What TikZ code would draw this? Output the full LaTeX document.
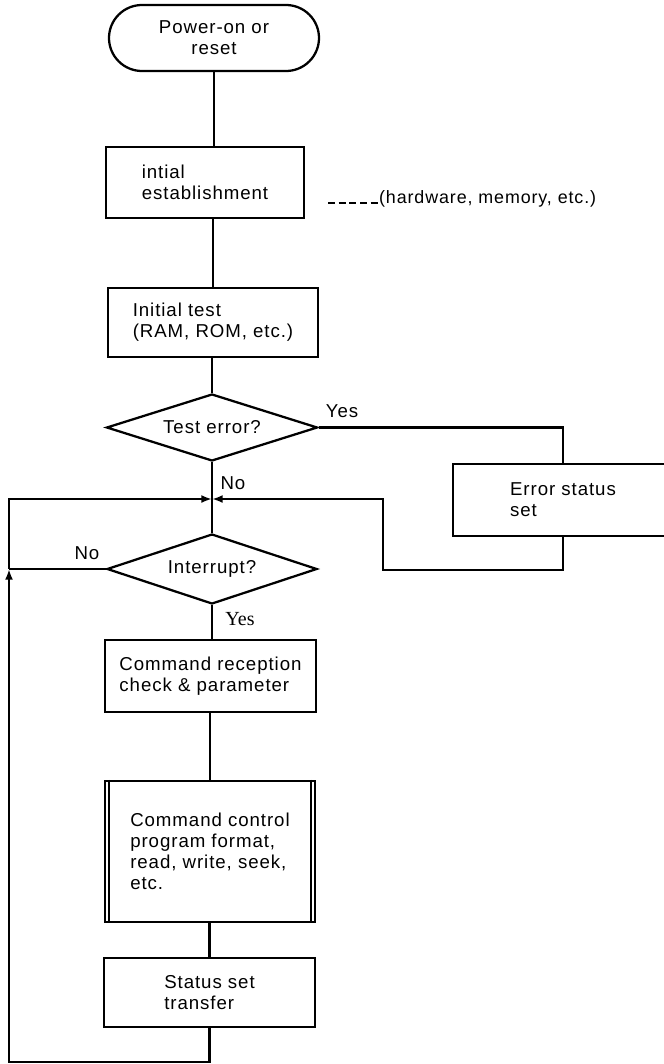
\documentclass[tikz,border=0pt]{standalone}
\usepackage{fontspec}
\setmainfont{Liberation Sans}[LetterSpace=5]
\newfontfamily\yesfont{Liberation Serif}
\usetikzlibrary{shapes.geometric,shapes.misc,arrows.meta,calc}
% lengths given in drawing units (1 unit = 0.75pt)
\newcommand\pxu[1]{#1*0.75pt}

\begin{document}
\begin{tikzpicture}[x=0.75pt,y=-0.75pt,line width=1.7pt,
  txt/.style={font=\fontsize{14pt}{15.8pt}\selectfont},
  box/.style={draw,rectangle,txt,align=left,inner sep=0pt},
  decision/.style={draw,diamond,txt,inner sep=0pt,shape aspect=3},
  terminal/.style={draw,rounded rectangle,txt,align=center,inner sep=0pt},
  lbl/.style={txt,inner sep=0pt},
  tip/.style={-{Latex[length=8pt,width=6pt]}},
  leader/.style={line width=1.3pt,dash pattern=on 5.2pt off 2.8pt}
]
\useasboundingbox (0,0) rectangle (664,1064);

% ---- blocks ----
\node[terminal,minimum width=\pxu{210},minimum height=\pxu{66}] (start) at (214,38) {Power-on or\\reset};
\node[box,minimum width=\pxu{198},minimum height=\pxu{71}] (estab) at (205,182.5) {intial\\establishment};
\node[lbl,anchor=base west,font=\fontsize{13.4pt}{15.8pt}\selectfont] (note) at (378,203) {(hardware, memory, etc.)};
\coordinate (lead) at (328,203);
\node[box,minimum width=\pxu{210},minimum height=\pxu{69}] (ramtest) at (213,322.5) {Initial test\\(RAM, ROM, etc.)};
\node[decision,minimum width=\pxu{211},minimum height=\pxu{67}] (testerr) at (212,427.5) {Test error?};
\node[box,minimum width=\pxu{220},minimum height=\pxu{72}] (errset) at (563,500) {Error status\\set};
\coordinate (merge) at (212,499);
\coordinate (loopR) at (383,570);
\node[decision,minimum width=\pxu{210},minimum height=\pxu{70}] (intr) at (212,569) {Interrupt?};
\node[box,minimum width=\pxu{211},minimum height=\pxu{72}] (recv) at (210.5,676) {Command reception\\check \& parameter};
\node[box,minimum width=\pxu{210},minimum height=\pxu{141}] (ctrl) at (210,851.5) {Command control\\program format,\\read, write, seek,\\etc.};
\node[box,minimum width=\pxu{211},minimum height=\pxu{69}] (status) at (209.5,992.5) {Status set\\transfer};
\coordinate (loopL) at (9,1062);

% predefined-process side bars
\draw ($(ctrl.north west)+(5,0)$) -- ($(ctrl.south west)+(5,0)$);
\draw ($(ctrl.north east)+(-5,0)$) -- ($(ctrl.south east)+(-5,0)$);

% ---- labels ----
\node[lbl] (yes1) at (342,411) {Yes};
\node[lbl] (no1) at (233,483) {No};
\node[lbl] (no2) at (87,553) {No};
\node[inner sep=0pt,font=\yesfont\fontsize{15pt}{16pt}\selectfont] (yes2) at (240,619) {Yes};

% ---- connectors ----
\draw[leader] (lead) -- (note.base west);
\draw (start.south) -- (start.south |- estab.north);
\draw (estab.south -| ramtest.north) -- (ramtest.north);
\draw (ramtest.south -| testerr.north) -- (testerr.north);
\draw (testerr.south) -- (merge) -- (intr.north);
\draw (testerr.east) -| (errset.north);
\draw[tip] (errset.south) |- (loopR) |- (merge);
\draw (intr.west) -- (loopL |- intr.west);
\draw[tip] (status.south) |- (loopL) -- (loopL |- intr.west);
\draw[tip] (loopL |- intr.west) |- (merge);
\draw (intr.south) -- (intr.south |- recv.north);
\draw (recv.south -| ctrl.north) -- (ctrl.north);
\draw (ctrl.south -| status.north) -- (status.north);
\end{tikzpicture}
\end{document}
